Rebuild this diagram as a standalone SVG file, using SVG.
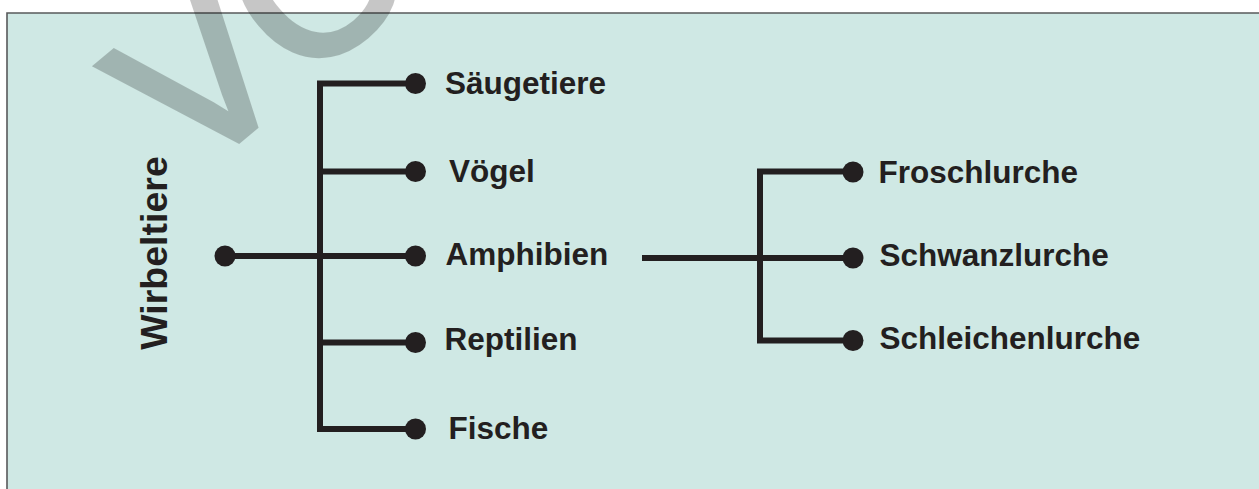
<svg xmlns="http://www.w3.org/2000/svg" width="1259" height="489" viewBox="0 0 1259 489">
  <style>
    .panel { fill: #cfe8e4; }
    .edge { fill: none; stroke: #58595b; stroke-width: 1.6; }
    .wire { fill: none; stroke: #231f20; stroke-width: 6; stroke-linejoin: miter; stroke-linecap: butt; }
    .dot { fill: #231f20; }
    .label { font-family: "Liberation Sans", Arial, sans-serif; font-weight: bold; font-size: 31.5px; fill: #231f20; }
    .title { font-family: "Liberation Sans", Arial, sans-serif; font-weight: bold; font-size: 37.5px; fill: #231f20; }
    .stamp { font-family: "Liberation Sans", Arial, sans-serif; font-size: 214px; fill: #000; stroke: #000; stroke-width: 7; }
  </style>

  <!-- background panel, open to the right and bottom -->
  <rect class="panel" x="7" y="13" width="1260" height="480"/>
  <path class="edge" d="M7,489 V13 H1262"/>

  <!-- connectors -->
  <g id="connectors">
    <path class="wire" d="M225,256 H415"/>
    <path class="wire" d="M415,83.5 H320 V429 H415"/>
    <path class="wire" d="M320,171.5 H415"/>
    <path class="wire" d="M320,342.5 H415"/>
    <path class="wire" d="M642,258 H853"/>
    <path class="wire" d="M853,171.5 H760 V340.5 H853"/>
  </g>

  <!-- root -->
  <g id="wirbeltiere">
    <circle class="dot" cx="225" cy="256" r="10.5"/>
    <text class="title" text-anchor="middle" transform="translate(167,253) rotate(-90)">Wirbeltiere</text>
  </g>

  <!-- vertebrate classes -->
  <g id="saeugetiere">
    <circle class="dot" cx="415.5" cy="83.5" r="10.5"/>
    <text class="label" x="445" y="93.5">Säugetiere</text>
  </g>
  <g id="voegel">
    <circle class="dot" cx="415.5" cy="171.5" r="10.5"/>
    <text class="label" x="449" y="181.5">Vögel</text>
  </g>
  <g id="amphibien">
    <circle class="dot" cx="415.5" cy="256" r="10.5"/>
    <text class="label" x="445.5" y="264.5">Amphibien</text>
  </g>
  <g id="reptilien">
    <circle class="dot" cx="415.5" cy="342.5" r="10.5"/>
    <text class="label" x="444.5" y="350">Reptilien</text>
  </g>
  <g id="fische">
    <circle class="dot" cx="415.5" cy="429" r="10.5"/>
    <text class="label" x="448.5" y="438.5">Fische</text>
  </g>

  <!-- amphibian orders -->
  <g id="froschlurche">
    <circle class="dot" cx="853" cy="172" r="10.5"/>
    <text class="label" x="878.5" y="182.5">Froschlurche</text>
  </g>
  <g id="schwanzlurche">
    <circle class="dot" cx="853" cy="258" r="10.5"/>
    <text class="label" x="879.5" y="265.5">Schwanzlurche</text>
  </g>
  <g id="schleichenlurche">
    <circle class="dot" cx="853" cy="340.5" r="10.5"/>
    <text class="label" x="879.5" y="349">Schleichenlurche</text>
  </g>

  <!-- translucent stamp lettering across the top left -->
  <g opacity="0.22">
    <text class="stamp" transform="translate(192,179) rotate(-40)">VO</text>
  </g>
</svg>
